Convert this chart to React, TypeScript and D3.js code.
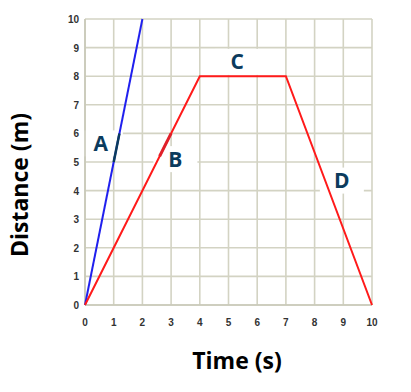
import React from 'react';
import * as d3 from 'd3';

// time (s) and distance (m) for the two runs
const ticks = [0, 1, 2, 3, 4, 5, 6, 7, 8, 9, 10];
const runA = [{t: 0, d: 0}, {t: 2, d: 10}];
const runB = [{t: 0, d: 0}, {t: 4, d: 8}, {t: 7, d: 8}, {t: 10, d: 0}];
const labels = [
    {name: 'A', t: 0.55, d: 5.65},
    {name: 'B', t: 3.15, d: 5.1},
    {name: 'C', t: 5.3, d: 8.5},
    {name: 'D', t: 8.95, d: 4.35},
];

const W = 411, H = 392;

export default function App() {
    const x = d3.scaleLinear().domain([0, 10]).range([85, 372]);
    const y = d3.scaleLinear().domain([0, 10]).range([305, 19]);
    const line = d3.line<{t: number, d: number}>().x(p => x(p.t)).y(p => y(p.d));
    const grid = '#d3d3c3';
    const navy = '#0b3b5d';

    return (
        <svg width={W} height={H} style={{position: 'absolute', left: 0, top: 0}}>
            <rect width={W} height={H} fill="#fff"/>
            {ticks.map(v => (
                <g key={'g' + v}>
                    <line x1={x(v)} x2={x(v)} y1={y(10)} y2={y(0)} stroke={grid} strokeWidth={1.6}/>
                    <line x1={x(0)} x2={x(10)} y1={y(v)} y2={y(v)} stroke={grid} strokeWidth={1.6}/>
                </g>
            ))}
            {labels.map(l => (
                <rect key={'r' + l.name} x={x(l.t) - 22} y={y(l.d) - 13} width={44} height={26} fill="#fff"/>
            ))}
            <line x1={x(0)} x2={x(10)} y1={y(0)} y2={y(0)} stroke="#c8c8b8" strokeWidth={1.6}/>
            <line x1={x(0)} x2={x(0)} y1={y(0)} y2={y(10)} stroke="#c8c8b8" strokeWidth={1.6}/>
            <path d={line(runA) || ''} fill="none" stroke="#2020ee" strokeWidth={2}/>
            <path d={line(runB) || ''} fill="none" stroke="#ff1a1a" strokeWidth={2}/>
            <path d={line([{t: 1, d: 5}, {t: 1.2, d: 6}]) || ''} fill="none" stroke={navy} strokeWidth={2.5}/>
            <path d={line([{t: 2.6, d: 5.2}, {t: 3, d: 6}]) || ''} fill="none" stroke="#e0202a" strokeWidth={3}/>
            {ticks.map(v => (
                <text key={'x' + v} x={x(v)} y={y(0) + 21} textAnchor="middle"
                      fontFamily="Liberation Sans, Arial, sans-serif" fontWeight="bold" fontSize={10} fill="#333">{v}</text>
            ))}
            {ticks.map(v => (
                <text key={'y' + v} x={x(0) - 6} y={y(v) + 4} textAnchor="end"
                      fontFamily="Liberation Sans, Arial, sans-serif" fontWeight="bold" fontSize={10} fill="#333">{v}</text>
            ))}
            {labels.map(l => (
                <text key={'l' + l.name} x={x(l.t)} y={y(l.d) + 7.5} textAnchor="middle"
                      fontFamily="Open Sans, sans-serif" fontWeight="bold" fontSize={21} fill={navy}>{l.name}</text>
            ))}
            <text x={237} y={369} textAnchor="middle" fontFamily="Open Sans, sans-serif" fontWeight="bold" fontSize={23} fill="#000">Time (s)</text>
            <text transform="translate(28,185) rotate(-90)" textAnchor="middle" fontFamily="Open Sans, sans-serif"
                  fontWeight="bold" fontSize={23} fill="#000">Distance (m)</text>
        </svg>
    );
}
